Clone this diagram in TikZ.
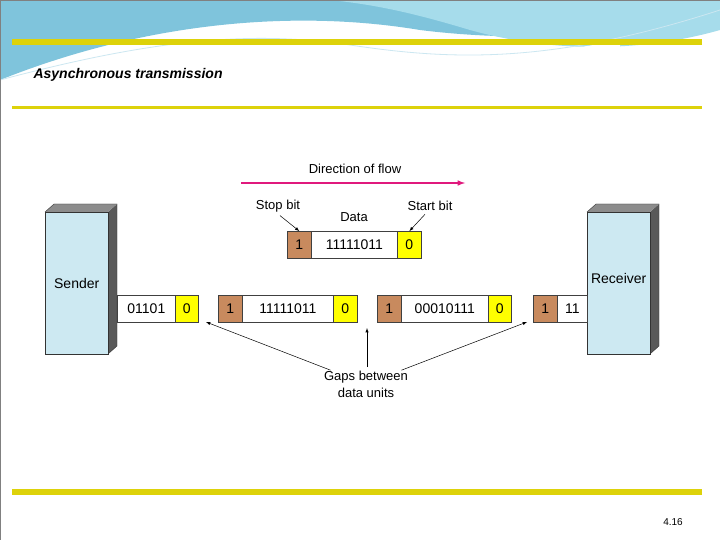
\documentclass[tikz,border=0pt]{standalone}
\usepackage{fontspec}
\setmainfont{Liberation Sans}
\definecolor{bbar}{HTML}{DDD20A}
\definecolor{brn}{HTML}{C88A5E}
\definecolor{ylw}{HTML}{FFFF00}
\definecolor{lb}{HTML}{CDE9F2}
\definecolor{mag}{HTML}{E0197D}
\definecolor{wave}{HTML}{7FC4DC}
\definecolor{wave2}{HTML}{A6DCEB}
\begin{document}
\begin{tikzpicture}[x=1pt,y=-1pt,
  cell/.style={draw=black!75,line width=0.7pt,minimum height=27pt,inner sep=0pt,font=\fontsize{14}{14}\selectfont,anchor=west},
  lbl/.style={font=\fontsize{13}{15}\selectfont,align=center},
  pt/.style={-latex,line width=0.5pt}]
\useasboundingbox (0,0) rectangle (720,540);
\fill[white] (0,0) rectangle (720,540);
% decorative waves
\fill[wave] (0,0) -- (720,0) -- (720,20) .. controls (600,40) and (500,40) .. (420,30) .. controls (300,10) and (150,20) .. (0,80) -- cycle;
\fill[wave2] (330,0) -- (720,0) -- (720,30) .. controls (650,50) and (560,55) .. (470,30) .. controls (420,15) and (380,5) .. (330,0) -- cycle;
\fill[white] (150,40) .. controls (250,20) and (330,25) .. (420,45) .. controls (470,55) and (520,60) .. (620,40) -- (620,60) -- (150,60) -- cycle;
\draw[white!60!wave,line width=0.8pt] (0,80) .. controls (150,40) and (250,30) .. (350,45) .. controls (450,60) and (550,65) .. (720,10);
\draw[black!50,line width=0.5pt] (0,0) rectangle (720,540);
% bars
\fill[bbar] (12,39) rectangle (702,45);
\fill[bbar] (12,106) rectangle (702,109);
\fill[bbar] (12,489) rectangle (702,495);
\node[anchor=west,font=\bfseries\itshape\fontsize{14}{15}\selectfont] (title) at (30,75) {Asynchronous transmission};
\node[font=\fontsize{10}{11}\selectfont] (pg) at (673,522) {4.16};
% Sender
\fill[black!65] (108,212) -- (117,204) -- (117,346) -- (108,354) -- cycle;
\fill[black!45] (45,212) -- (54,204) -- (117,204) -- (108,212) -- cycle;
\draw[black!80] (45,212) -- (54,204) -- (117,204) -- (117,346) -- (108,354);
\node[draw=black!80,fill=lb,minimum width=63pt,minimum height=142pt,inner sep=0pt,anchor=north west,font=\fontsize{14}{15}\selectfont] (snd) at (45,212) {Sender};
% Receiver
\fill[black!65] (650,212) -- (659,204) -- (659,346) -- (650,354) -- cycle;
\fill[black!45] (587,212) -- (596,204) -- (659,204) -- (650,212) -- cycle;
\draw[black!80] (587,212) -- (596,204) -- (659,204) -- (659,346) -- (650,354);
\node[draw=black!80,fill=lb,minimum width=63pt,minimum height=142pt,inner sep=0pt,anchor=north west,font=\fontsize{14}{15}\selectfont] (rcv) at (587,212) {\raisebox{9pt}{Receiver}};
% row
\node[cell,minimum width=58pt] (a1) at (117,309) {01101};
\node[cell,fill=ylw,minimum width=23pt] (a2) at (175,309) {0};
\node[cell,fill=brn,minimum width=24pt] (b1) at (218,309) {1};
\node[cell,minimum width=91pt] (b2) at (242,309) {11111011};
\node[cell,fill=ylw,minimum width=24pt] (b3) at (333,309) {0};
\node[cell,fill=brn,minimum width=24pt] (c1) at (377,309) {1};
\node[cell,minimum width=87pt] (c2) at (401,309) {00010111};
\node[cell,fill=ylw,minimum width=23pt] (c3) at (488,309) {0};
\node[cell,fill=brn,minimum width=24pt] (d1) at (533,309) {1};
\node[cell,minimum width=30pt] (d2) at (557,309) {11};
% top frame
\node[cell,fill=brn,minimum width=24pt] (t1) at (287,245) {1};
\node[cell,minimum width=86pt] (t2) at (311,245) {11111011};
\node[cell,fill=ylw,minimum width=24pt] (t3) at (397,245) {0};
% labels
\node[lbl] (dir) at (355,169) {Direction of flow};
\coordinate (fl) at (241,183); \coordinate (fr) at (465,183);
\draw[mag,line width=1.5pt,-latex] (fl) -- (fr);
\node[lbl] (stop) at (278,206) {Stop bit};
\node[lbl] (data) at (354,217) {Data};
\node[lbl] (start) at (430,206) {Start bit};
\draw[pt] (stop.south) ++(2,0) -- (t1.north);
\draw[pt] (start.south) ++(-5,0) -- (t3.north);
\node[lbl,align=center,font=\fontsize{13}{17}\selectfont] (gaps) at (366,384) {Gaps between\\data units};
\coordinate (g1) at (206,322); \coordinate (g2) at (367,328); \coordinate (g3) at (527,322);
\draw[pt] (gaps.north west) ++(10,3) -- (g1);
\draw[pt] (gaps.north) ++(1,0) -- (g2);
\draw[pt] (gaps.north east) ++(-10,3) -- (g3);
\end{tikzpicture}
\end{document}
